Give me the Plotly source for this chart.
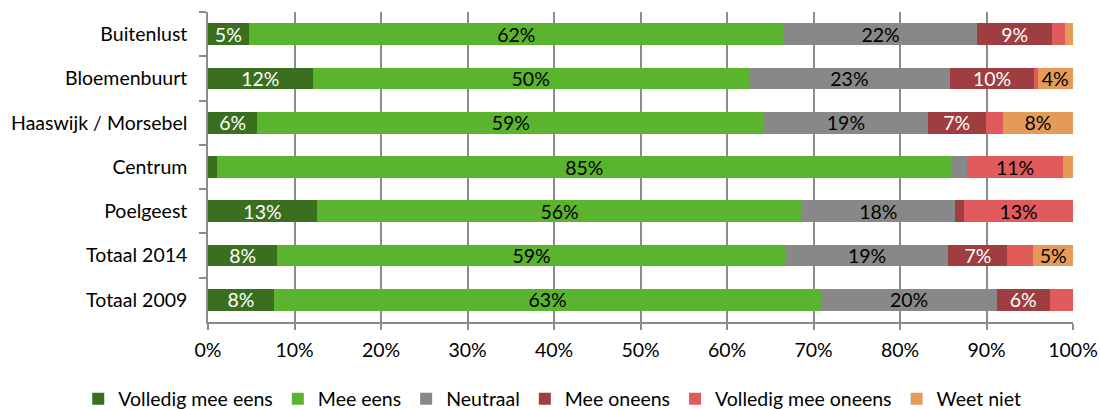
import plotly.graph_objects as go

# Survey answers per district, share of respondents in percent
categories = ["Buitenlust", "Bloemenbuurt", "Haaswijk / Morsebel", "Centrum",
              "Poelgeest", "Totaal 2014", "Totaal 2009"]

volledig_mee_eens = [4.7, 12.1, 5.7, 1.0, 12.6, 8.0, 7.6]
mee_eens = [61.9, 50.4, 58.6, 85.0, 56.1, 58.8, 63.3]
neutraal = [22.3, 23.3, 18.9, 1.8, 17.6, 18.8, 20.3]
mee_oneens = [8.7, 9.7, 6.7, 0.0, 1.1, 6.8, 6.1]
volledig_mee_oneens = [1.5, 0.4, 2.0, 11.0, 12.6, 3.0, 2.7]
weet_niet = [0.9, 4.1, 8.1, 1.2, 0.0, 4.6, 0.0]

x_ticks = [0, 10, 20, 30, 40, 50, 60, 70, 80, 90, 100]
x_tick_labels = [f"{t}%" for t in x_ticks]

series = [
    ("Volledig mee eens", volledig_mee_eens, "#3a6f1f", "white"),
    ("Mee eens", mee_eens, "#5bb42e", "black"),
    ("Neutraal", neutraal, "#888888", "black"),
    ("Mee oneens", mee_oneens, "#9e3e40", "white"),
    ("Volledig mee oneens", volledig_mee_oneens, "#e15b5d", "black"),
    ("Weet niet", weet_niet, "#e49b58", "black"),
]

FONT = "Lato"
SIZE = 19.5
AXIS_GREY = "#8c8c8c"


def label(v):
    # small segments carry no label
    return f"{int(v + 0.5)}%" if v >= 3.5 else ""


fig = go.Figure()
for name, vals, color, txtcol in series:
    fig.add_trace(go.Bar(
        name=name,
        y=categories,
        x=vals,
        orientation="h",
        marker=dict(color=color, line=dict(width=0)),
        text=[label(v) for v in vals],
        textposition="inside",
        insidetextanchor="middle",
        textangle=0,
        constraintext="none",
        textfont=dict(family=FONT, size=SIZE, color=txtcol),
        hoverinfo="name+x",
    ))

fig.update_layout(
    barmode="stack",
    bargap=0.51,
    width=1100,
    height=409,
    margin=dict(l=208, r=27, t=12, b=87, autoexpand=False),
    paper_bgcolor="white",
    plot_bgcolor="white",
    font=dict(family=FONT, size=SIZE, color="black"),
    showlegend=True,
    legend=dict(
        orientation="h",
        xref="paper", yref="paper",
        x=-0.150, xanchor="left",
        y=-0.249, yanchor="middle",
        font=dict(family=FONT, size=SIZE, color="black"),
        itemwidth=30,
        traceorder="normal",
        bgcolor="rgba(0,0,0,0)",
    ),
)

fig.update_xaxes(
    range=[0, 100],
    tickvals=x_ticks,
    ticktext=x_tick_labels,
    automargin=False,
    showgrid=True,
    gridcolor=AXIS_GREY,
    gridwidth=1.5,
    showline=True,
    linecolor=AXIS_GREY,
    linewidth=1.5,
    ticks="outside",
    ticklen=6,
    tickcolor=AXIS_GREY,
    tickwidth=1.5,
    ticklabelstandoff=4,
    zeroline=False,
    tickfont=dict(family=FONT, size=SIZE, color="black"),
)

fig.update_yaxes(
    autorange="reversed",
    automargin=False,
    showgrid=False,
    showline=True,
    linecolor=AXIS_GREY,
    linewidth=1.5,
    ticks="outside",
    tickson="boundaries",
    ticklen=7,
    tickcolor=AXIS_GREY,
    tickwidth=1.5,
    ticklabelstandoff=15,
    tickfont=dict(family=FONT, size=SIZE, color="black"),
)

fig.write_html("out.html")
